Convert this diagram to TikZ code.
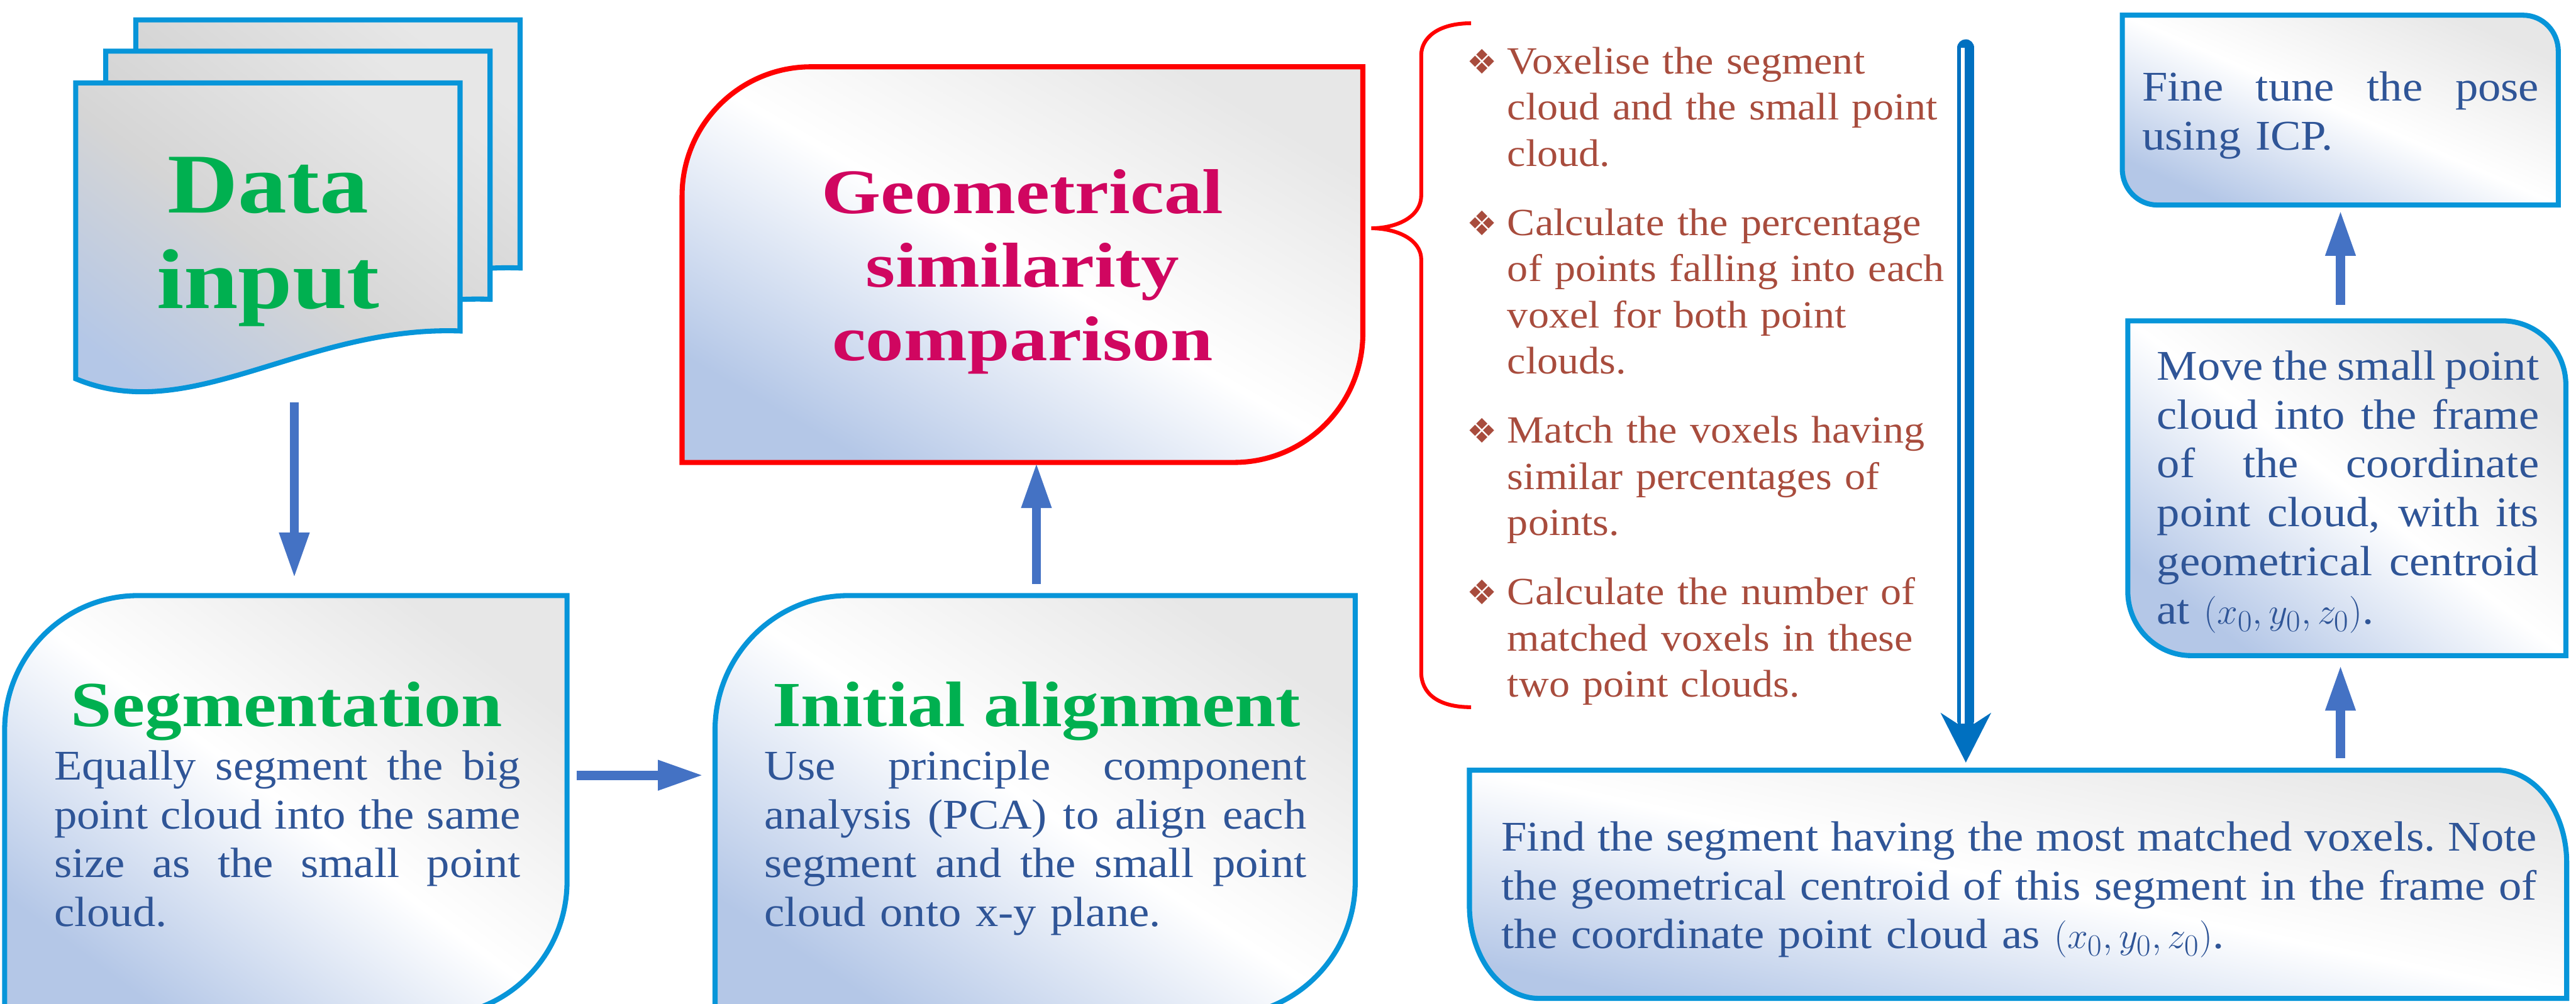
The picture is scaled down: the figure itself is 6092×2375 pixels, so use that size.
\documentclass[tikz,border=0pt]{standalone}
\usepackage{fontspec}
\setmainfont{Liberation Serif}
\newfontfamily\bodyf{Liberation Serif}[FakeStretch=1.08]
\newfontfamily\headf{Liberation Serif}[FakeStretch=1.15]
\newfontfamily\geomf{Liberation Serif}[FakeStretch=1.2]
\newfontfamily\symf{DejaVu Sans}
\usetikzlibrary{arrows.meta,calc,fit}
\definecolor{boxcol}{HTML}{0795D9}
\definecolor{headgreen}{HTML}{00B050}
\definecolor{geomred}{RGB}{208,6,96}
\definecolor{bodyblue}{HTML}{2F5597}
\definecolor{stepbrown}{HTML}{A84C3D}
\definecolor{arrowblue}{HTML}{4472C4}
\definecolor{dblblue}{HTML}{0070C0}
\definecolor{gradblue}{HTML}{B4C7E7}
\definecolor{gradgrey}{HTML}{E7E7E7}
\definecolor{sheetmid}{HTML}{D5D5D5}
\hbadness=10000 \vbadness=10000 \hfuzz=100pt
\newcommand\shapeTLBR[7]{%
  \path[#1] (#2,{#3+#7}) .. controls (#2,{#3+0.4477*#7}) and ({#2+0.4477*#6},#3) .. ({#2+#6},#3)
    -- (#4,#3) -- (#4,{#5-#7}) .. controls (#4,{#5-0.4477*#7}) and ({#4-0.4477*#6},#5) .. ({#4-#6},#5)
    -- (#2,#5) -- cycle;}
\newcommand\shapeTRBL[7]{%
  \path[#1] (#2,#3) -- ({#4-#6},#3) .. controls ({#4-0.4477*#6},#3) and (#4,{#3+0.4477*#7}) .. (#4,{#3+#7})
    -- (#4,#5) -- ({#2+#6},#5) .. controls ({#2+0.4477*#6},#5) and (#2,{#5-0.4477*#7}) .. (#2,{#5-#7}) -- cycle;}
\newcommand\sheetpath[6]{%
  \path[#1] (#2,#3) -- (#4,#3) -- (#4,#5) .. controls ({#4-368},{#5-13}) and ({#2+271},{#6+114}) .. (#2,#6) -- cycle;}
\newcommand\fullline[2]{\leavevmode\hbox to #1{\spaceskip=\fontdimen2\font plus 1fil minus \fontdimen4\font\relax\xspaceskip=\spaceskip #2}}
\newcommand\bul{\leavevmode\llap{{\symf\fontsize{22.76pt}{31pt}\selectfont ❖}\hspace{0.24cm}}}
\tikzset{
  bluebox/.style={draw=boxcol, line width=0.12cm, top color=gradgrey, bottom color=gradblue, middle color=white, shading angle=#1},
  redbox/.style={draw=red, line width=0.12cm, top color=gradgrey, bottom color=gradblue, middle color=white, shading angle=#1},
  sheet/.style={draw=boxcol, line width=0.12cm, top color=gradgrey, bottom color=gradblue, middle color=sheetmid, shading angle=-37.6},
  flow/.style={draw=arrowblue, line width=0.22cm, -{Triangle[length=1.08cm, width=0.66cm]}},
  anchorbox/.style={inner sep=0pt, outer sep=0pt, draw=none},
  txt/.style={inner sep=0pt, outer sep=0pt},
  bodytext/.style={txt, text=bodyblue, font={\bodyf\fontsize{28.45pt}{32.86pt}\selectfont}},
  steptext/.style={txt, text=stepbrown, font={\bodyf\fontsize{25.89pt}{31.01pt}\selectfont}},
  headtext/.style={txt, text=headgreen, font={\headf\bfseries\fontsize{43.25pt}{50pt}\selectfont}},
  datatext/.style={txt, text=headgreen, text width=9cm, align=center, font={\headf\bfseries\fontsize{57.19pt}{64.59pt}\selectfont}},
  geomtext/.style={txt, text=geomred, text width=15cm, align=center, font={\geomf\bfseries\fontsize{42.68pt}{49.51pt}\selectfont}}
}
\begin{document}
\begin{tikzpicture}[x=0.01cm, y=-0.01cm]
\useasboundingbox (0,0) rectangle (6092,2375);
\clip (0,0) rectangle (6092,2375);

% data input: stacked document sheets
\sheetpath{sheet}{321}{47}{1230}{634}{747}
\sheetpath{sheet}{250}{121}{1159}{708}{821}
\sheetpath{sheet}{179}{196}{1088}{783}{896}
\node[fit={(179,196) (1088,896)}, anchorbox] (data) {};
\node[datatext, anchor=base] (datatitle) at (634,503) {Data\\input};
\coordinate (dataout) at (696,952);

% boxes
\shapeTLBR{bluebox=-36.8}{11}{1409}{1341}{2403}{315}{318}
\shapeTLBR{bluebox=-33.3}{1691}{1409}{3205}{2403}{315}{318}
\shapeTLBR{redbox=-30.1}{1613}{158}{3223}{1094}{305}{305}
\shapeTRBL{bluebox=-23.5}{5019}{36}{6050}{485}{83}{85}
\shapeTRBL{bluebox=-37.4}{5032}{759}{6068}{1551}{150}{152}
\shapeTRBL{bluebox=-11.8}{3475}{1822}{6070}{2362}{165}{220}

\node[fit={(11,1409) (1341,2403)}, anchorbox] (seg) {};
\node[fit={(1691,1409) (3205,2403)}, anchorbox] (init) {};
\node[fit={(1613,158) (3223,1094)}, anchorbox] (geom) {};
\node[fit={(5019,36) (6050,485)}, anchorbox] (fine) {};
\node[fit={(5032,759) (6068,1551)}, anchorbox] (move) {};
\node[fit={(3475,1822) (6070,2362)}, anchorbox] (find) {};

% texts
\node[geomtext, anchor=base] (geomtitle) at (2418,505) {Geometrical\\similarity\\comparison};
\node[headtext, anchor=base] (segtitle) at (678,1719) {Segmentation};
\node[headtext, anchor=base] (inittitle) at (2451,1719) {Initial alignment};
\node[bodytext, anchor=base west, text width=11.03cm] (segbody) at (128,1845)
  {\fullline{11.03cm}{Equally segment the big}\\\fullline{11.03cm}{point cloud into the same}\\\fullline{11.03cm}{size as the small point}\\cloud.};
\node[bodytext, anchor=base west, text width=12.81cm] (initbody) at (1808,1845)
  {\fullline{12.81cm}{Use principle component}\\\fullline{12.81cm}{analysis (PCA) to align each}\\\fullline{12.81cm}{segment and the small point}\\cloud onto x-y plane.};
\node[bodytext, anchor=base west, text width=9.38cm] (finetext) at (5066,239)
  {\fullline{9.38cm}{Fine tune the pose}\\using ICP.};
\node[bodytext, anchor=base west, text width=9.03cm] (movetext) at (5101,899)
  {\fullline{9.03cm}{Move the small point}\\\fullline{9.03cm}{cloud into the frame}\\\fullline{9.03cm}{of the coordinate}\\\fullline{9.03cm}{point cloud, with its}\\\fullline{9.03cm}{geometrical centroid}\\at $(x_0, y_0, z_0)$.};
\node[bodytext, anchor=base west, text width=24.47cm] (findtext) at (3551,2013)
  {\fullline{24.47cm}{Find the segment having the most matched voxels. Note}\\\fullline{24.47cm}{the geometrical centroid of this segment in the frame of}\\the coordinate point cloud as $(x_0, y_0, z_0)$.};
\node[steptext, anchor=base west, text width=10.5cm] (steps) at (3565,175) {%
\bul Voxelise the segment\\cloud and the small point\\cloud.\par\vspace{0.55cm}
\bul Calculate the percentage\\of points falling into each\\voxel for both point\\clouds.\par\vspace{0.55cm}
\bul Match the voxels having\\similar percentages of\\points.\par\vspace{0.55cm}
\bul Calculate the number of\\matched voxels in these\\two point clouds.};

% brace
\draw[red, line width=0.09cm] (3479,55) .. controls (3400,55) and (3361,90) .. (3361,131) -- (3361,462)
  .. controls (3361,515) and (3300,540) .. (3243,540) .. controls (3300,540) and (3361,565) .. (3361,614)
  -- (3361,1590) .. controls (3361,1640) and (3400,1673) .. (3479,1673);

% connectors
\coordinate (r1) at (0,1834);
\coordinate (ia) at (2451,0);
\coordinate (rc) at (5535,0);
\draw[flow, shorten >=0.41cm] (dataout) -- (dataout |- seg.north);
\draw[flow, shorten <=0.23cm, shorten >=0.27cm] (seg.east |- r1) -- (init.west |- r1);
\draw[flow, shorten <=0.27cm] (ia |- init.north) -- (ia |- geom.south);
\draw[flow, shorten <=0.28cm, shorten >=0.22cm] (rc |- find.north) -- (rc |- move.south);
\draw[flow, shorten <=0.37cm, shorten >=0.12cm] (rc |- move.north) -- (rc |- fine.south);

% double arrow
\coordinate (dtop) at (4649,113);
\coordinate (dtip) at ($(dtop |- find.north)+(0,-18)$);
\draw[draw=dblblue, line width=0.40cm, line cap=round] (dtop) -- ($(dtip)+(0,-100)$);
\draw[white, line width=0.09cm] ($(dtop)+(-7.5,0)$) -- ($(dtip)+(-7.5,-85)$);
\fill[dblblue] ($(dtip)+(-60,-118)$) -- (dtip) -- ($(dtip)+(60,-118)$) -- ($(dtip)+(20,-92)$) -- ($(dtip)+(-20,-92)$) -- cycle;
\end{tikzpicture}
\end{document}
